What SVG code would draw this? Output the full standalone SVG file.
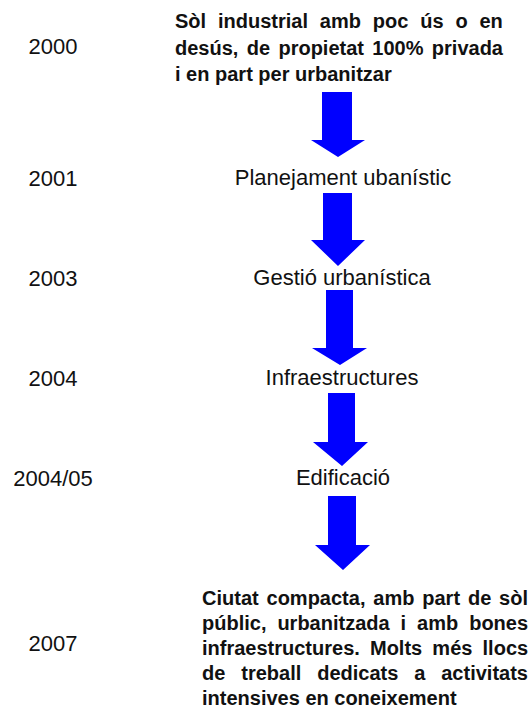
<svg xmlns="http://www.w3.org/2000/svg" width="532" height="713" viewBox="0 0 532 713">
<style>
.yr{font-family:"Liberation Sans",Arial,sans-serif;font-size:22px;fill:#111;text-anchor:middle}
.lb{font-family:"Liberation Sans",Arial,sans-serif;font-size:22px;fill:#111;text-anchor:middle}
.bd{font-family:"Liberation Sans",Arial,sans-serif;font-size:20px;font-weight:bold;fill:#111}
.ar{fill:#0000ff}
</style>
<rect width="532" height="713" fill="#fff"/>
<g id="connectors">
<polygon class="ar" points="322,92 352,92 352,140 365,140 338,157 311,140 322,140"/>
<polygon class="ar" points="323,193 352,193 352,240 365,240 338,266 311,240 323,240"/>
<polygon class="ar" points="326,290 353,290 353,348 367,348 340,365 312,348 326,348"/>
<polygon class="ar" points="328,393 355,393 355,442 368,442 342,466 313,442 328,442"/>
<polygon class="ar" points="328,496 356,496 356,545 370,545 343,570 315,545 328,545"/>
</g>
<g id="y2000"><text class="yr" x="53" y="54">2000</text></g>
<g id="y2001"><text class="yr" x="53" y="186">2001</text></g>
<g id="y2003"><text class="yr" x="53" y="286">2003</text></g>
<g id="y2004"><text class="yr" x="53" y="386">2004</text></g>
<g id="y200405"><text class="yr" x="53" y="486">2004/05</text></g>
<g id="y2007"><text class="yr" x="53" y="651">2007</text></g>
<g id="start">
<text class="bd" x="175" y="28" word-spacing="6.3">Sòl industrial amb poc ús o en</text>
<text class="bd" x="175" y="55" word-spacing="2.8">desús, de propietat 100% privada</text>
<text class="bd" x="175" y="81">i en part per urbanitzar</text>
</g>
<g id="planejament"><text class="lb" x="343" y="185">Planejament ubanístic</text></g>
<g id="gestio"><text class="lb" x="342" y="285">Gestió urbanística</text></g>
<g id="infra"><text class="lb" x="342" y="385">Infraestructures</text></g>
<g id="edificacio"><text class="lb" x="343" y="485">Edificació</text></g>
<g id="end">
<text class="bd" x="202" y="605" word-spacing="2.3">Ciutat compacta, amb part de sòl</text>
<text class="bd" x="202" y="630" word-spacing="5.4">públic, urbanitzada i amb bones</text>
<text class="bd" x="202" y="655" word-spacing="4.6">infraestructures. Molts més llocs</text>
<text class="bd" x="202" y="680" word-spacing="10.35">de treball dedicats a activitats</text>
<text class="bd" x="202" y="705">intensives en coneixement</text>
</g>
</svg>
